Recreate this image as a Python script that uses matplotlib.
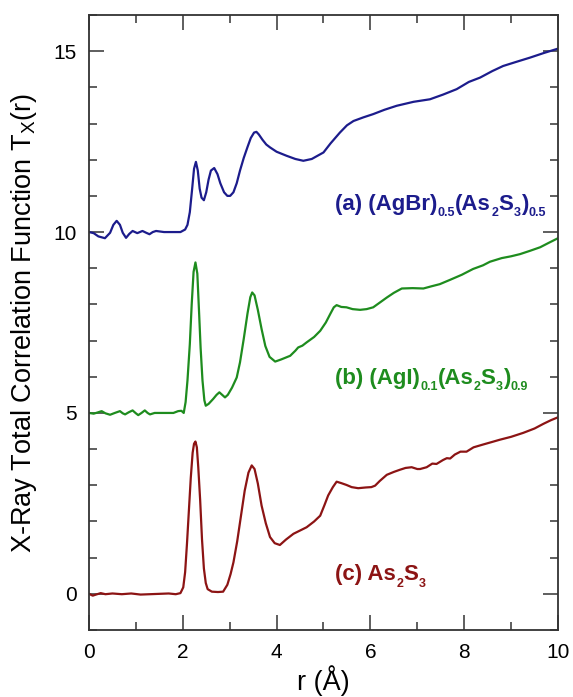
import matplotlib
matplotlib.use('Agg')
import matplotlib.pyplot as plt
from matplotlib.ticker import MultipleLocator

plt.rcParams['font.family'] = ['Liberation Sans', 'DejaVu Sans']
plt.rcParams['mathtext.fontset'] = 'custom'
plt.rcParams['mathtext.rm'] = 'Liberation Sans'
plt.rcParams['mathtext.it'] = 'Liberation Sans'

# (a) (AgBr)0.5(As2S3)0.5
r_a = [0.0, 0.1, 0.2, 0.34, 0.45, 0.52, 0.59, 0.66, 0.72, 0.79, 0.86, 0.93, 1.03, 1.14,
       1.22, 1.29, 1.36, 1.43, 1.6, 1.8, 1.95, 2.05, 2.1, 2.15, 2.2, 2.24, 2.28, 2.32,
       2.36, 2.4, 2.45, 2.5, 2.55, 2.6, 2.67, 2.74, 2.8, 2.88, 2.95, 3.01, 3.08, 3.15,
       3.22, 3.3, 3.38, 3.45, 3.52, 3.57, 3.62, 3.7, 3.78, 3.86, 4.0, 4.21, 4.4, 4.57,
       4.75, 5.0, 5.15, 5.35, 5.5, 5.64, 5.85, 6.06, 6.3, 6.56, 6.92, 7.27, 7.55, 7.84,
       8.1, 8.34, 8.6, 8.83, 9.1, 9.4, 9.7, 10.0]
t_a = [10.0, 9.97, 9.88, 9.83, 9.98, 10.2, 10.31, 10.2, 9.98, 9.84, 9.95, 10.03, 9.97, 10.03,
       9.98, 9.94, 10.0, 10.03, 10.0, 10.0, 10.0, 10.07, 10.2, 10.55, 11.2, 11.75, 11.94, 11.7,
       11.2, 10.95, 10.88, 11.1, 11.45, 11.7, 11.77, 11.6, 11.35, 11.1, 11.0, 11.0, 11.1, 11.35,
       11.7, 12.05, 12.35, 12.6, 12.75, 12.77, 12.7, 12.55, 12.42, 12.34, 12.22, 12.11, 12.02, 11.97,
       12.02, 12.2, 12.45, 12.75, 12.95, 13.07, 13.17, 13.26, 13.38, 13.49, 13.6, 13.67, 13.8, 13.95,
       14.15, 14.27, 14.45, 14.59, 14.7, 14.82, 14.95, 15.07]

# (b) (AgI)0.1(As2S3)0.9
r_b = [0.0, 0.1, 0.2, 0.27, 0.35, 0.45, 0.55, 0.66, 0.72, 0.77, 0.85, 0.93, 1.0, 1.05,
       1.12, 1.19, 1.25, 1.3, 1.4, 1.6, 1.8, 1.9, 1.97, 2.02, 2.06, 2.1, 2.15, 2.19,
       2.23, 2.27, 2.31, 2.35, 2.38, 2.42, 2.46, 2.49, 2.55, 2.65, 2.72, 2.78, 2.84, 2.9,
       2.96, 3.05, 3.15, 3.22, 3.3, 3.38, 3.44, 3.48, 3.53, 3.6, 3.68, 3.76, 3.85, 3.97,
       4.1, 4.29, 4.4, 4.46, 4.55, 4.64, 4.8, 4.93, 5.05, 5.15, 5.22, 5.28, 5.38, 5.49,
       5.62, 5.78, 5.92, 6.06, 6.2, 6.35, 6.5, 6.67, 6.9, 7.13, 7.3, 7.48, 7.7, 7.95,
       8.19, 8.4, 8.55, 8.8, 9.0, 9.19, 9.4, 9.62, 9.8, 10.0]
t_b = [5.0, 4.98, 5.02, 5.05, 4.99, 4.95, 5.0, 5.05, 4.99, 4.96, 5.02, 5.07, 4.99, 4.94,
       5.0, 5.07, 5.0, 4.96, 5.0, 5.0, 5.0, 5.05, 5.06, 5.0, 5.3, 5.9, 6.9, 8.0,
       8.9, 9.16, 8.85, 7.7, 6.8, 5.9, 5.35, 5.2, 5.25, 5.39, 5.5, 5.57, 5.5, 5.43,
       5.5, 5.7, 5.98, 6.4, 7.05, 7.75, 8.2, 8.33, 8.25, 7.85, 7.32, 6.85, 6.55, 6.42,
       6.48, 6.58, 6.72, 6.81, 6.86, 6.95, 7.1, 7.27, 7.5, 7.75, 7.92, 7.98, 7.93, 7.92,
       7.87, 7.85, 7.87, 7.92, 8.05, 8.19, 8.32, 8.44, 8.45, 8.44, 8.5, 8.56, 8.68, 8.82,
       8.98, 9.08, 9.18, 9.28, 9.33, 9.39, 9.48, 9.58, 9.7, 9.83]

# (c) As2S3
r_c = [0.0, 0.08, 0.15, 0.25, 0.35, 0.5, 0.7, 0.9, 1.1, 1.3, 1.5, 1.7, 1.85, 1.95,
       2.01, 2.05, 2.09, 2.13, 2.17, 2.21, 2.24, 2.27, 2.3, 2.33, 2.37, 2.41, 2.45, 2.49,
       2.53, 2.62, 2.75, 2.86, 2.95, 3.02, 3.08, 3.16, 3.24, 3.32, 3.4, 3.47, 3.53, 3.6,
       3.68, 3.77, 3.86, 3.96, 4.07, 4.2, 4.36, 4.5, 4.64, 4.8, 4.93, 5.02, 5.1, 5.2,
       5.28, 5.38, 5.49, 5.6, 5.74, 5.9, 6.02, 6.1, 6.2, 6.35, 6.5, 6.63, 6.75, 6.88,
       7.0, 7.06, 7.2, 7.32, 7.41, 7.55, 7.63, 7.7, 7.8, 7.92, 8.05, 8.2, 8.41, 8.6,
       8.76, 9.0, 9.26, 9.5, 9.69, 9.85, 10.0]
t_c = [0.0, -0.05, -0.02, 0.02, -0.01, 0.01, -0.01, 0.01, -0.02, -0.01, 0.0, 0.01, -0.01, 0.02,
       0.18, 0.6, 1.4, 2.3, 3.2, 3.9, 4.15, 4.21, 4.05, 3.5, 2.6, 1.5, 0.7, 0.3,
       0.13, 0.06, 0.05, 0.06, 0.25, 0.55, 0.87, 1.45, 2.15, 2.85, 3.35, 3.55, 3.45, 3.05,
       2.44, 1.95, 1.57, 1.4, 1.35, 1.5, 1.66, 1.75, 1.84, 2.0, 2.16, 2.45, 2.72, 2.95,
       3.1, 3.06, 3.01, 2.95, 2.92, 2.94, 2.95, 2.99, 3.12, 3.29, 3.37, 3.43, 3.48, 3.5,
       3.45, 3.45, 3.5, 3.6, 3.59, 3.7, 3.75, 3.74, 3.85, 3.93, 3.93, 4.05, 4.13, 4.2,
       4.26, 4.34, 4.45, 4.57, 4.7, 4.8, 4.88]

# label pieces: (text, is_subscript)
label_a = [('(a) (AgBr)', False), ('0.5', True), ('(As', False), ('2', True),
           ('S', False), ('3', True), (')', False), ('0.5', True)]
label_b = [('(b) (AgI)', False), ('0.1', True), ('(As', False), ('2', True),
           ('S', False), ('3', True), (')', False), ('0.9', True)]
label_c = [('(c) As', False), ('2', True), ('S', False), ('3', True)]

blue = '#1c1c8c'
green = '#1e8c1e'
red = '#8c1414'

fig = plt.figure(figsize=(5.73, 6.97), dpi=100)
ax = fig.add_axes([0.1553, 0.0961, 0.8185, 0.8824])

ax.plot(r_a, t_a, color=blue, lw=1.6)
ax.plot(r_b, t_b, color=green, lw=1.6)
ax.plot(r_c, t_c, color=red, lw=1.6)


def chem_label(x, y, pieces, color, size=16, subsize=9):
    first = ax.text(x, y, pieces[0][0], color=color, fontsize=size,
                    fontweight='bold', va='baseline')
    prev = first
    for txt, sub in pieces[1:]:
        if sub:
            prev = ax.annotate(txt, xy=(1, 0), xycoords=(prev, first),
                               xytext=(0.3, -3.0), textcoords='offset points',
                               color=color, fontsize=subsize, fontweight='bold',
                               va='bottom', ha='left')
        else:
            prev = ax.annotate(txt, xy=(1, 0), xycoords=(prev, first),
                               color=color, fontsize=size, fontweight='bold',
                               va='bottom', ha='left')


chem_label(5.245, 10.61, label_a, blue)
chem_label(5.245, 5.80, label_b, green)
chem_label(5.245, 0.37, label_c, red)

ax.set_xlim(0, 10)
ax.set_ylim(-1, 16)
ax.xaxis.set_major_locator(MultipleLocator(2))
ax.xaxis.set_minor_locator(MultipleLocator(1))
ax.yaxis.set_major_locator(MultipleLocator(5))
ax.yaxis.set_minor_locator(MultipleLocator(1))
ax.tick_params(which='both', direction='in', top=True, right=True, width=1.1,
               labelsize=15, color='#333333')
ax.tick_params(which='major', length=11, pad=9)
ax.tick_params(which='minor', length=6)
for s in ax.spines.values():
    s.set_linewidth(1.3)
    s.set_color('#333333')

ax.set_xlabel('r (Å)', fontsize=19.5)
ax.set_ylabel(r'X-Ray Total Correlation Function T$_{\mathrm{X}}$(r)', fontsize=19.5)
ax.yaxis.set_label_coords(-0.107, 0.5)
ax.xaxis.set_label_coords(0.5, -0.057)

fig.savefig('out.png', dpi=100)
